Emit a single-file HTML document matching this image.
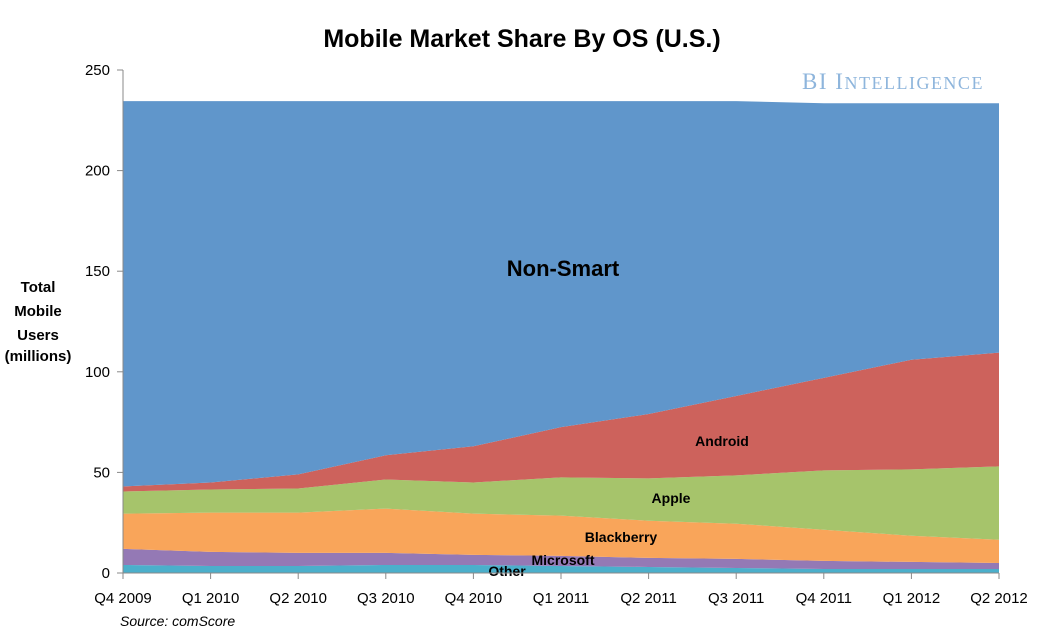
<!DOCTYPE html>
<html><head><meta charset="utf-8">
<style>
body{margin:0;background:#fff;}
svg{display:block;font-family:"Liberation Sans",sans-serif;}
</style></head>
<body>
<svg id="chart" width="1044" height="631" viewBox="0 0 1044 631">
<text x="522" y="47" text-anchor="middle" font-size="25" font-weight="bold" fill="#000">Mobile Market Share By OS (U.S.)</text>
<g id="areas"></g>
<g id="axes"></g>
<text x="893" y="89" text-anchor="middle" font-family="Liberation Serif,serif" font-size="23" fill="#8eb5dc" letter-spacing="1.5">BI I<tspan font-size="18">NTELLIGENCE</tspan></text>
<g font-size="15" font-weight="bold" text-anchor="middle">
<text x="38" y="292">Total</text><text x="38" y="316">Mobile</text><text x="38" y="340">Users</text><text x="38" y="361">(millions)</text>
</g>
<text x="120" y="626" font-size="14" font-style="italic">Source: comScore</text>
</svg>
<script>
const categories=["Q4 2009","Q1 2010","Q2 2010","Q3 2010","Q4 2010","Q1 2011","Q2 2011","Q3 2011","Q4 2011","Q1 2012","Q2 2012"];
const other=[4,3.5,3.5,4,4,3.5,3,2.5,2,2,2];
const microsoft=[8,7,6.5,6,5,5,4.5,4.5,4,3.5,3];
const blackberry=[17.5,19.5,20,22,20.5,20,18.5,17.5,15.5,13,11.5];
const apple=[11,11.5,12,14.5,15.5,19,21,24,29.5,33,36.5];
const android=[2.5,3.5,7,12,18,25,32,39.5,46,54.5,56.5];
const nonSmart=[191.5,189.5,185.5,176,171.5,162,155.5,146.5,136.5,127.5,124];
const yTicks=[0,50,100,150,200,250];
const seriesNames=["Other","Microsoft","Blackberry","Apple","Android","Non-Smart"];

const X0=123,X1=999,Y0=573,Y1=70,YMAX=250;
const xs=i=>X0+(X1-X0)*i/(categories.length-1);
const ys=v=>Y0-(Y0-Y1)*v/YMAX;
const NS="http://www.w3.org/2000/svg";
const series=[other,microsoft,blackberry,apple,android,nonSmart];
const colors=["#4bafcb","#9479b5","#f9a55a","#a6c46b","#cd625c","#6096cb"];
const slugs=["area-other","area-microsoft","area-blackberry","area-apple","area-android","area-non-smart"];
const areas=document.getElementById('areas');
let base=categories.map(()=>0);
series.forEach((s,k)=>{
  const top=base.map((b,i)=>b+s[i]);
  let d="M"+top.map((v,i)=>xs(i)+","+ys(v)).join(" L");
  for(let i=categories.length-1;i>=0;i--) d+=" L"+xs(i)+","+ys(base[i]);
  d+=" Z";
  const p=document.createElementNS(NS,'path');
  p.setAttribute('d',d);p.setAttribute('fill',colors[k]);
  
  
  areas.appendChild(p);
  base=top;
});
const labs=[
 {t:"Non-Smart",x:563,y:276,fs:22},
 {t:"Android",x:722,y:446,fs:14},
 {t:"Apple",x:671,y:503,fs:14},
 {t:"Blackberry",x:621,y:542,fs:14},
 {t:"Microsoft",x:563,y:565,fs:14},
 {t:"Other",x:507,y:576,fs:14}];
labs.forEach(l=>{
  const t=document.createElementNS(NS,'text');
  t.setAttribute('x',l.x);t.setAttribute('y',l.y);
  t.setAttribute('text-anchor','middle');t.setAttribute('font-size',l.fs);t.setAttribute('font-weight','bold');
  t.textContent=l.t;
  
  
  areas.appendChild(t);
});
const axes=document.getElementById('axes');
function line(x1,y1,x2,y2,name){const l=document.createElementNS(NS,'line');
 l.setAttribute('x1',x1);l.setAttribute('y1',y1);l.setAttribute('x2',x2);l.setAttribute('y2',y2);
 l.setAttribute('stroke','#888');l.setAttribute('stroke-width','1');
 
 
 axes.appendChild(l);}
line(X0,Y1,X0,Y0,'y-axis-line');line(X0,Y0,X1,Y0,'x-axis-line');
yTicks.forEach(v=>{line(X0-6,ys(v),X0,ys(v),'y-tick');
 const t=document.createElementNS(NS,'text');t.setAttribute('x',X0-13);t.setAttribute('y',ys(v)+5);
 t.setAttribute('text-anchor','end');t.setAttribute('font-size','15');t.textContent=v;
 
 
 axes.appendChild(t);});
categories.forEach((c,i)=>{line(xs(i),Y0,xs(i),Y0+6,'x-tick');
 const t=document.createElementNS(NS,'text');t.setAttribute('x',xs(i));t.setAttribute('y',Y0+30);
 t.setAttribute('text-anchor','middle');t.setAttribute('font-size','15');t.textContent=c;
 
 
 axes.appendChild(t);});
</script>
</body></html>
